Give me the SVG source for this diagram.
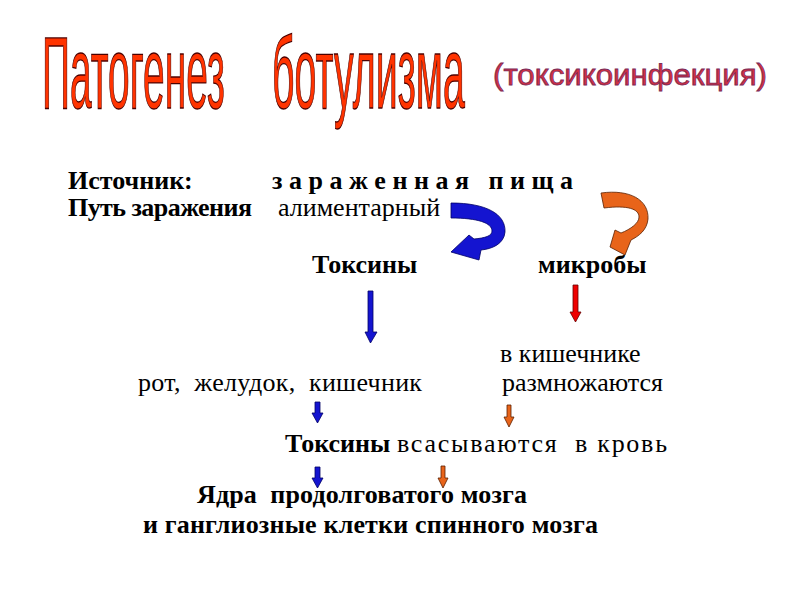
<svg xmlns="http://www.w3.org/2000/svg" width="800" height="600" viewBox="0 0 800 600">
<style>
.title{font-family:"Liberation Sans",Arial,sans-serif;font-size:102px;fill:#ff3300;stroke:#4a0000;stroke-width:1.3px}
.sub{font-family:"Liberation Sans",Arial,sans-serif;font-size:30px;fill:#d23040;stroke:#7a2a5a;stroke-width:0.8px}
.t{font-family:"Liberation Serif","Times New Roman",serif;font-size:26px;fill:#000;white-space:pre}
.b{font-weight:bold}
.blue{fill:#1414d0;stroke:#000066;stroke-width:0.8}
.red{fill:#ee0000;stroke:#660000;stroke-width:0.8}
.orange{fill:#e8641a;stroke:#5a2000;stroke-width:0.8}
</style>
<rect width="800" height="600" fill="#fff"/>
<g id="title">
<text class="title" transform="translate(42,108) scale(0.4,1)" x="0" y="0" textLength="457" lengthAdjust="spacingAndGlyphs">Патогенез</text>
<text class="title" transform="translate(272,108) scale(0.4,1)" x="0" y="0" textLength="482" lengthAdjust="spacingAndGlyphs">ботулизма</text>
</g>
<g id="subtitle">
<text class="sub" x="493" y="85" textLength="274" lengthAdjust="spacingAndGlyphs">(токсикоинфекция)</text>
</g>
<g id="source">
<text class="t b" x="68" y="189">Источник:</text>
<text class="t b" x="272" y="189" textLength="301">з а р а ж е н н а я   п и щ а</text>
</g>
<g id="route">
<text class="t b" x="68" y="216" textLength="184">Путь заражения</text>
<text class="t" x="278" y="216">алиментарный</text>
</g>
<g id="toxins">
<text class="t b" x="312" y="273">Токсины</text>
</g>
<g id="microbes">
<text class="t b" x="538" y="273">микробы</text>
</g>
<g id="intestine">
<text class="t" x="500" y="362">в кишечнике</text>
<text class="t" x="502" y="391">размножаются</text>
</g>
<g id="path">
<text class="t" x="138" y="391" textLength="284">рот,  желудок,  кишечник</text>
</g>
<g id="blood">
<text class="t" y="452"><tspan class="b" x="285">Токсины</tspan><tspan x="397" textLength="270">всасываются  в кровь</tspan></text>
</g>
<g id="nuclei">
<text class="t b" x="197" y="503" textLength="330">Ядра  продолговатого мозга</text>
<text class="t b" x="143" y="533" textLength="455">и ганглиозные клетки спинного мозга</text>
</g>
<g id="connectors">
<path class="blue" d="M451,203 C486,203 506,214 505,232 C504,244 492,249 481,250 L479,260 L451,252 L469,235 L474,239 C485,238 492,236 492,231 C492,223 478,218 451,218 Z"/>
<path class="orange" d="M601,193 C630,189 649,200 648,219 C647,230 639,236 631,240 L625,255 L610,247 L615,230 L621,233 C631,229 639,223 639,217 C639,209 628,205 604,208 Z"/>
<polygon class="blue" points="368,291 373,291 373,332 377,332 370.5,343 365,332 368,332"/>
<polygon class="red" points="573,285 578,285 578,312 581,312 575.5,322 570,312 573,312"/>
<polygon class="blue" points="315,402 320,402 320,413 323,413 317.5,423 312,413 315,413"/>
<polygon class="orange" points="507,405 511,405 511,417 514,417 509,427 504,417 507,417"/>
<polygon class="blue" points="315,467 320,467 320,478 323,478 317.5,488 312,478 315,478"/>
<polygon class="orange" points="441,466 445,466 445,478 448,478 443,488 438,478 441,478"/>
</g>
</svg>
